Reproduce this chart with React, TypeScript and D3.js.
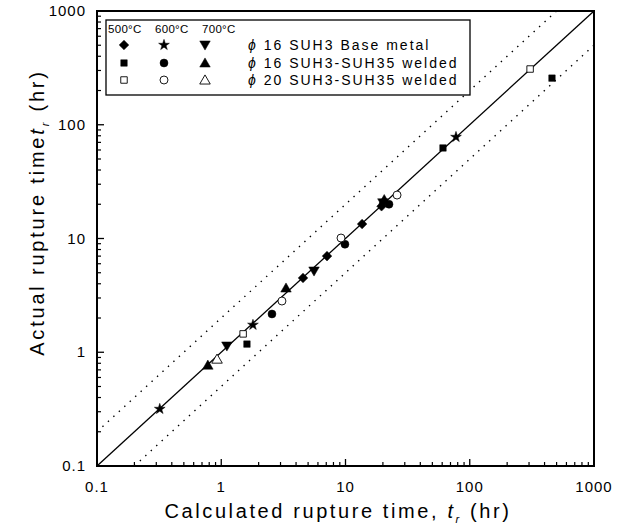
import React from "react";
import * as d3 from "d3";

const W = 617;
const H = 529;

// Tick labels
const xTickValues = [0.1, 1, 10, 100, 1000];
const xTickLabels = ["0.1", "1", "10", "100", "1000"];
const yTickValues = [0.1, 1, 10, 100, 1000];
const yTickLabels = ["0.1", "1", "10", "100", "1000"];

// Series: [calculated, actual]
const base500: [number, number][] = [[4.55, 4.5], [7.1, 7.0], [13.6, 13.4], [19.5, 19.2]];
const base600: [number, number][] = [[0.32, 0.317], [1.8, 1.74], [77.5, 78]];
const base700: [number, number][] = [[1.11, 1.135], [5.58, 5.18], [20, 20.6]];
const weld16_500: [number, number][] = [[1.61, 1.18], [60.9, 62.5], [459, 257]];
const weld16_600: [number, number][] = [[2.56, 2.17], [9.9, 8.9], [22.4, 20]];
const weld16_700: [number, number][] = [[0.78, 0.77], [3.32, 3.67], [20.5, 22]];
const weld20_500: [number, number][] = [[1.5, 1.45], [306, 309]];
const weld20_600: [number, number][] = [[3.08, 2.82], [9.2, 10.1], [26, 24.1]];
const weld20_700: [number, number][] = [[0.925, 0.87]];

const tempHeaders = ["500°C", "600°C", "700°C"];
const rowLabels = ["16 SUH3 Base metal", "16 SUH3-SUH35 welded", "20 SUH3-SUH35 welded"];

const FONT = "'Liberation Sans', Arial, Helvetica, sans-serif";

type Kind = "diamond" | "star" | "down" | "square" | "circle" | "up";

const symFor: Record<Kind, d3.SymbolType> = {
  diamond: d3.symbolSquare,
  star: d3.symbolStar,
  down: d3.symbolTriangle,
  square: d3.symbolSquare,
  circle: d3.symbolCircle,
  up: d3.symbolTriangle,
};
const sizeFor: Record<Kind, number> = {
  diamond: 46,
  star: 36,
  down: 48,
  square: 42,
  circle: 50,
  up: 48,
};

function Marker({ kind, x, y, filled }: { kind: Kind; x: number; y: number; filled: boolean }) {
  const p = d3.symbol().type(symFor[kind]).size(sizeFor[kind])() || "";
  const rot = kind === "down" ? 180 : kind === "diamond" ? 45 : 0;
  const dy = kind === "down" ? -1 : kind === "up" ? 1 : 0;
  return (
    <path
      d={p}
      transform={`translate(${x},${y + dy}) rotate(${rot})`}
      fill={filled ? "#000" : "#fff"}
      stroke="#000"
      strokeWidth={filled ? 0.5 : 0.9}
    />
  );
}

export default function App() {
  const x0 = 97, x1 = 594, y0 = 466, y1 = 11;
  const x = d3.scaleLog().domain([0.1, 1000]).range([x0, x1]);
  const y = d3.scaleLog().domain([0.1, 1000]).range([y0, y1]);

  const minor: number[] = [];
  for (let e = -1; e < 3; e++) {
    for (let m = 2; m <= 9; m++) minor.push(m * Math.pow(10, e));
  }

  const series: { data: [number, number][]; kind: Kind; filled: boolean }[] = [
    { data: base500, kind: "diamond", filled: true },
    { data: base600, kind: "star", filled: true },
    { data: base700, kind: "down", filled: true },
    { data: weld16_500, kind: "square", filled: true },
    { data: weld16_600, kind: "circle", filled: true },
    { data: weld16_700, kind: "up", filled: true },
    { data: weld20_500, kind: "square", filled: false },
    { data: weld20_600, kind: "circle", filled: false },
    { data: weld20_700, kind: "up", filled: false },
  ];

  const line = d3
    .line<[number, number]>()
    .x((d) => x(d[0]))
    .y((d) => y(d[1]));

  const diag: [number, number][] = [[0.1, 0.1], [1000, 1000]];
  const upper: [number, number][] = [[0.1, 0.2], [500, 1000]];
  const lower: [number, number][] = [[0.2, 0.1], [1000, 500]];

  const legendKinds: Kind[][] = [
    ["diamond", "star", "down"],
    ["square", "circle", "up"],
    ["square", "circle", "up"],
  ];
  const legendFilled = [true, true, false];
  const colX = [124, 164, 205];
  const rowY = [45, 63, 80];

  return (
    <svg
      width={W}
      height={H}
      style={{ position: "absolute", left: 0, top: 0, background: "#fff" }}
      fontFamily={FONT}
    >
      <rect x={0} y={0} width={W} height={H} fill="#fff" />
      {/* reference lines */}
      <path d={line(diag) || ""} stroke="#000" strokeWidth={1.3} fill="none" />
      <path d={line(upper) || ""} stroke="#000" strokeWidth={1.4} fill="none" strokeDasharray="1.4,6" />
      <path d={line(lower) || ""} stroke="#000" strokeWidth={1.4} fill="none" strokeDasharray="1.4,6" />

      {/* data */}
      {series.map((s, i) =>
        s.data.map((d, j) => (
          <Marker key={`${i}-${j}`} kind={s.kind} x={x(d[0])} y={y(d[1])} filled={s.filled} />
        ))
      )}

      {/* ticks bottom */}
      {xTickValues.map((v) => (
        <line key={`xt${v}`} x1={x(v)} x2={x(v)} y1={y0} y2={y0 - 7} stroke="#000" strokeWidth={1.3} />
      ))}
      {minor.map((v) => (
        <line key={`xm${v}`} x1={x(v)} x2={x(v)} y1={y0} y2={y0 - 4} stroke="#000" strokeWidth={1.2} />
      ))}
      {/* ticks left */}
      {yTickValues.map((v) => (
        <line key={`yt${v}`} x1={x0} x2={x0 + 7} y1={y(v)} y2={y(v)} stroke="#000" strokeWidth={1.3} />
      ))}
      {minor.map((v) => (
        <line key={`ym${v}`} x1={x0} x2={x0 + 4} y1={y(v)} y2={y(v)} stroke="#000" strokeWidth={1.2} />
      ))}

      {/* frame */}
      <rect x={x0} y={y1} width={x1 - x0} height={y0 - y1} fill="none" stroke="#000" strokeWidth={2} />

      {/* tick labels */}
      {xTickValues.map((v, i) => (
        <text key={`xl${v}`} x={x(v)} y={492} textAnchor="middle" fontSize={15} letterSpacing={1}>
          {xTickLabels[i]}
        </text>
      ))}
      {yTickValues.map((v, i) => (
        <text key={`yl${v}`} x={86} y={y(v) + 5} textAnchor="end" fontSize={15} letterSpacing={1}>
          {yTickLabels[i]}
        </text>
      ))}

      {/* axis titles */}
      <text x={338} y={518} textAnchor="middle" fontSize={20} letterSpacing={2.6}>
        Calculated rupture time,{" "}
        <tspan fontStyle="italic">t</tspan>
        <tspan fontStyle="italic" fontSize={11} dy={5}>r</tspan>
        <tspan dy={-5}> (hr)</tspan>
      </text>
      <text
        transform={`translate(44,${(y0 + y1) / 2 - 26}) rotate(-90)`}
        textAnchor="middle"
        fontSize={20}
        letterSpacing={2.8}
      >
        Actual rupture time
        <tspan fontStyle="italic">t</tspan>
        <tspan fontStyle="italic" fontSize={11} dy={5}>r</tspan>
        <tspan dy={-5}> (hr)</tspan>
      </text>

      {/* legend */}
      <rect x={106} y={20} width={364} height={75} fill="#fff" stroke="#000" strokeWidth={1.3} />
      {tempHeaders.map((t, i) => (
        <text key={t} x={108 + i * 47} y={33} fontSize={11.5} letterSpacing={0.3}>
          {t}
        </text>
      ))}
      {legendKinds.map((row, r) =>
        row.map((k, c) => (
          <Marker key={`lg${r}${c}`} kind={k} x={colX[c]} y={rowY[r]} filled={legendFilled[r]} />
        ))
      )}
      {rowLabels.map((l, r) => (
        <text key={l} x={248} y={rowY[r] + 5} fontSize={14} letterSpacing={2}>
          <tspan fontStyle="italic">ϕ</tspan> {l}
        </text>
      ))}
    </svg>
  );
}
